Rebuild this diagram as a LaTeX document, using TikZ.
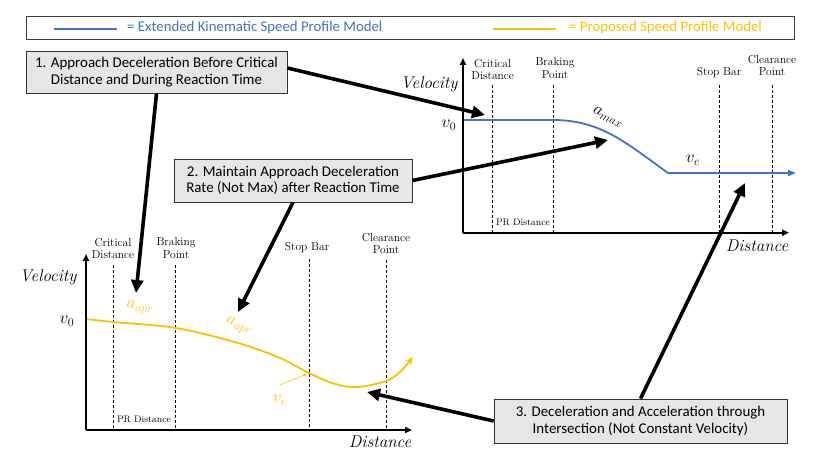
\documentclass[tikz,border=0pt]{standalone}
\usepackage{fontspec}
\setmainfont{Latin Modern Roman}
\newfontfamily\calib{Carlito}
\usetikzlibrary{arrows.meta}
\definecolor{kblue}{HTML}{4472C4}
\definecolor{kyell}{HTML}{FFC000}
\definecolor{boxgray}{HTML}{E7E6E6}
\tikzset{
  callout/.style={draw=black!80, line width=0.8pt, fill=boxgray, align=center, font=\calib\fontsize{14.9}{16.5}\selectfont, inner sep=0pt},
  bigarrow/.style={line width=3.6pt, -{Triangle[length=13pt,width=12pt]}},
  axisline/.style={line width=1.8pt, -{Triangle[length=7pt,width=6pt]}},
  refline/.style={line width=0.6pt, dash pattern=on 3pt off 2pt},
  axlbl/.style={font=\fontsize{11.5}{12.8}\selectfont, align=center, inner sep=1pt},
  axtitle/.style={font=\itshape\fontsize{17}{19}\selectfont},
  prlbl/.style={font=\fontsize{9.5}{11}\selectfont},
  mathlbl/.style={font=\fontsize{18}{20}\selectfont}
}
\begin{document}
\begin{tikzpicture}[x=1pt,y=-1pt]
\useasboundingbox (0,0) rectangle (825,462);
% legend
\node[draw=black!75, line width=0.8pt, minimum width=768pt, minimum height=23pt, inner sep=0pt] (legend) at (410,27.5) {};
\coordinate (lb1) at (54,29);
\coordinate (lb2) at (117,29);
\draw[kblue, line width=2.6pt] (lb1) -- (lb2);
\node[anchor=west, text=kblue, font=\calib\fontsize{14.8}{16}\selectfont, inner sep=0pt] (legblue) at (127,28) {= Extended Kinematic Speed Profile Model};
\coordinate (ly1) at (493,29);
\coordinate (ly2) at (556,29);
\draw[kyell, line width=2.6pt] (ly1) -- (ly2);
\node[anchor=west, text=kyell, font=\calib\fontsize{14.8}{16}\selectfont, inner sep=0pt] (legyell) at (569,28) {= Proposed Speed Profile Model};

% ===== top chart =====
\coordinate (TO) at (463,232.7);
\coordinate (TY) at (463,58);
\coordinate (TX) at (789,232.7);
\draw[refline] (492.3,85) -- (492.3,232);
\draw[refline] (553.7,85) -- (553.7,232);
\draw[refline] (719,85) -- (719,232);
\draw[refline] (772,85) -- (772,232);
\node[axlbl] (tcl) at (492.7,69.5) {Critical\\Distance};
\node[axlbl] (tbl) at (555,68) {Braking\\Point};
\node[axlbl] (tsl) at (719,73) {Stop Bar};
\node[axlbl] (tll) at (772,65.5) {Clearance\\Point};
\node[axtitle] (tvel) at (429,84) {Velocity};
\node[mathlbl] (tv0) at (449,125) {$v_0$};
\node[prlbl] (tpr) at (523,222.5) {PR Distance};
\node[axtitle] (tdist) at (757,246) {Distance};
\draw[kblue, line width=1.8pt, -{Triangle[length=8pt,width=6pt]}] (463,120) -- (553,120) .. controls (600,120) and (625,142) .. (668,173) -- (796,173);
\node[mathlbl, rotate=-25] (tamax) at (608,117) {$a_{max}$};
\node[mathlbl] (tve) at (693,160) {$v_e$};
\draw[axisline] (TO) -- (TY);
\draw[axisline] (TO) -- (TX);

% ===== bottom chart =====
\coordinate (BO) at (86,430);
\coordinate (BY) at (86,254);
\coordinate (BX) at (412,430);
\draw[refline] (113.3,265) -- (113.3,430);
\draw[refline] (175.7,265) -- (175.7,430);
\draw[refline] (309,259) -- (309,430);
\draw[refline] (386,260) -- (386,430);
\node[axlbl] (bcl) at (113,248.5) {Critical\\Distance};
\node[axlbl] (bbl) at (176,248) {Braking\\Point};
\node[axlbl] (bsl) at (307,248) {Stop Bar};
\node[axlbl] (bll) at (386,243.5) {Clearance\\Point};
\node[axtitle] (bvel) at (48,277) {Velocity};
\node[mathlbl] (bv0) at (67,321) {$v_0$};
\node[prlbl] (bpr) at (144,419.5) {PR Distance};
\node[axtitle] (bdist) at (380,442) {Distance};
\draw[kyell, line width=1.8pt, -{Stealth[length=8pt,width=7pt]}] plot[smooth, tension=0.55] coordinates {(86,319) (113,322) (176,328) (238,343) (280,358) (309,373) (335,384) (358,387) (386,381) (400,372) (413,357)};
\node[mathlbl, text=kyell, rotate=-6] (baapr1) at (140,308) {$a_{apr}$};
\node[mathlbl, text=kyell, rotate=-20] (baapr2) at (239,326) {$a_{apr}$};
\node[mathlbl, text=kyell] (bve) at (280,400) {$v_e$};
\coordinate (vea) at (280,385);
\coordinate (veb) at (307,374);
\draw[kyell, line width=0.6pt, -{Stealth[length=4pt,width=3pt]}] (vea) -- (veb);
\draw[axisline] (BO) -- (BY);
\draw[axisline] (BO) -- (BX);

% ===== callouts =====
\node[callout, minimum width=261pt, minimum height=42pt] (b1) at (156.5,72) {1. Approach Deceleration Before Critical\\Distance and During Reaction Time};
\node[callout, minimum width=238pt, minimum height=43pt] (b2) at (293,180.5) {2. Maintain Approach Deceleration\\Rate (Not Max) after Reaction Time};
\node[callout, minimum width=293pt, minimum height=44pt] (b3) at (640.5,421) {3. Deceleration and Acceleration through\\Intersection (Not Constant Velocity)};

\coordinate (t1) at (485,115);
\coordinate (t2) at (136,293);
\coordinate (t3) at (608,140);
\coordinate (t4) at (238,312);
\coordinate (t5) at (745,183);
\coordinate (t6) at (367,392);
\draw[bigarrow] ([yshift=4pt]b1.east) -- (t1);
\draw[bigarrow] (b1.south) -- (t2);
\draw[bigarrow] (b2.east) -- (t3);
\draw[bigarrow] (b2.south) -- (t4);
\draw[bigarrow] (b3.north) -- (t5);
\draw[bigarrow] (b3.west) -- (t6);
\end{tikzpicture}
\end{document}
